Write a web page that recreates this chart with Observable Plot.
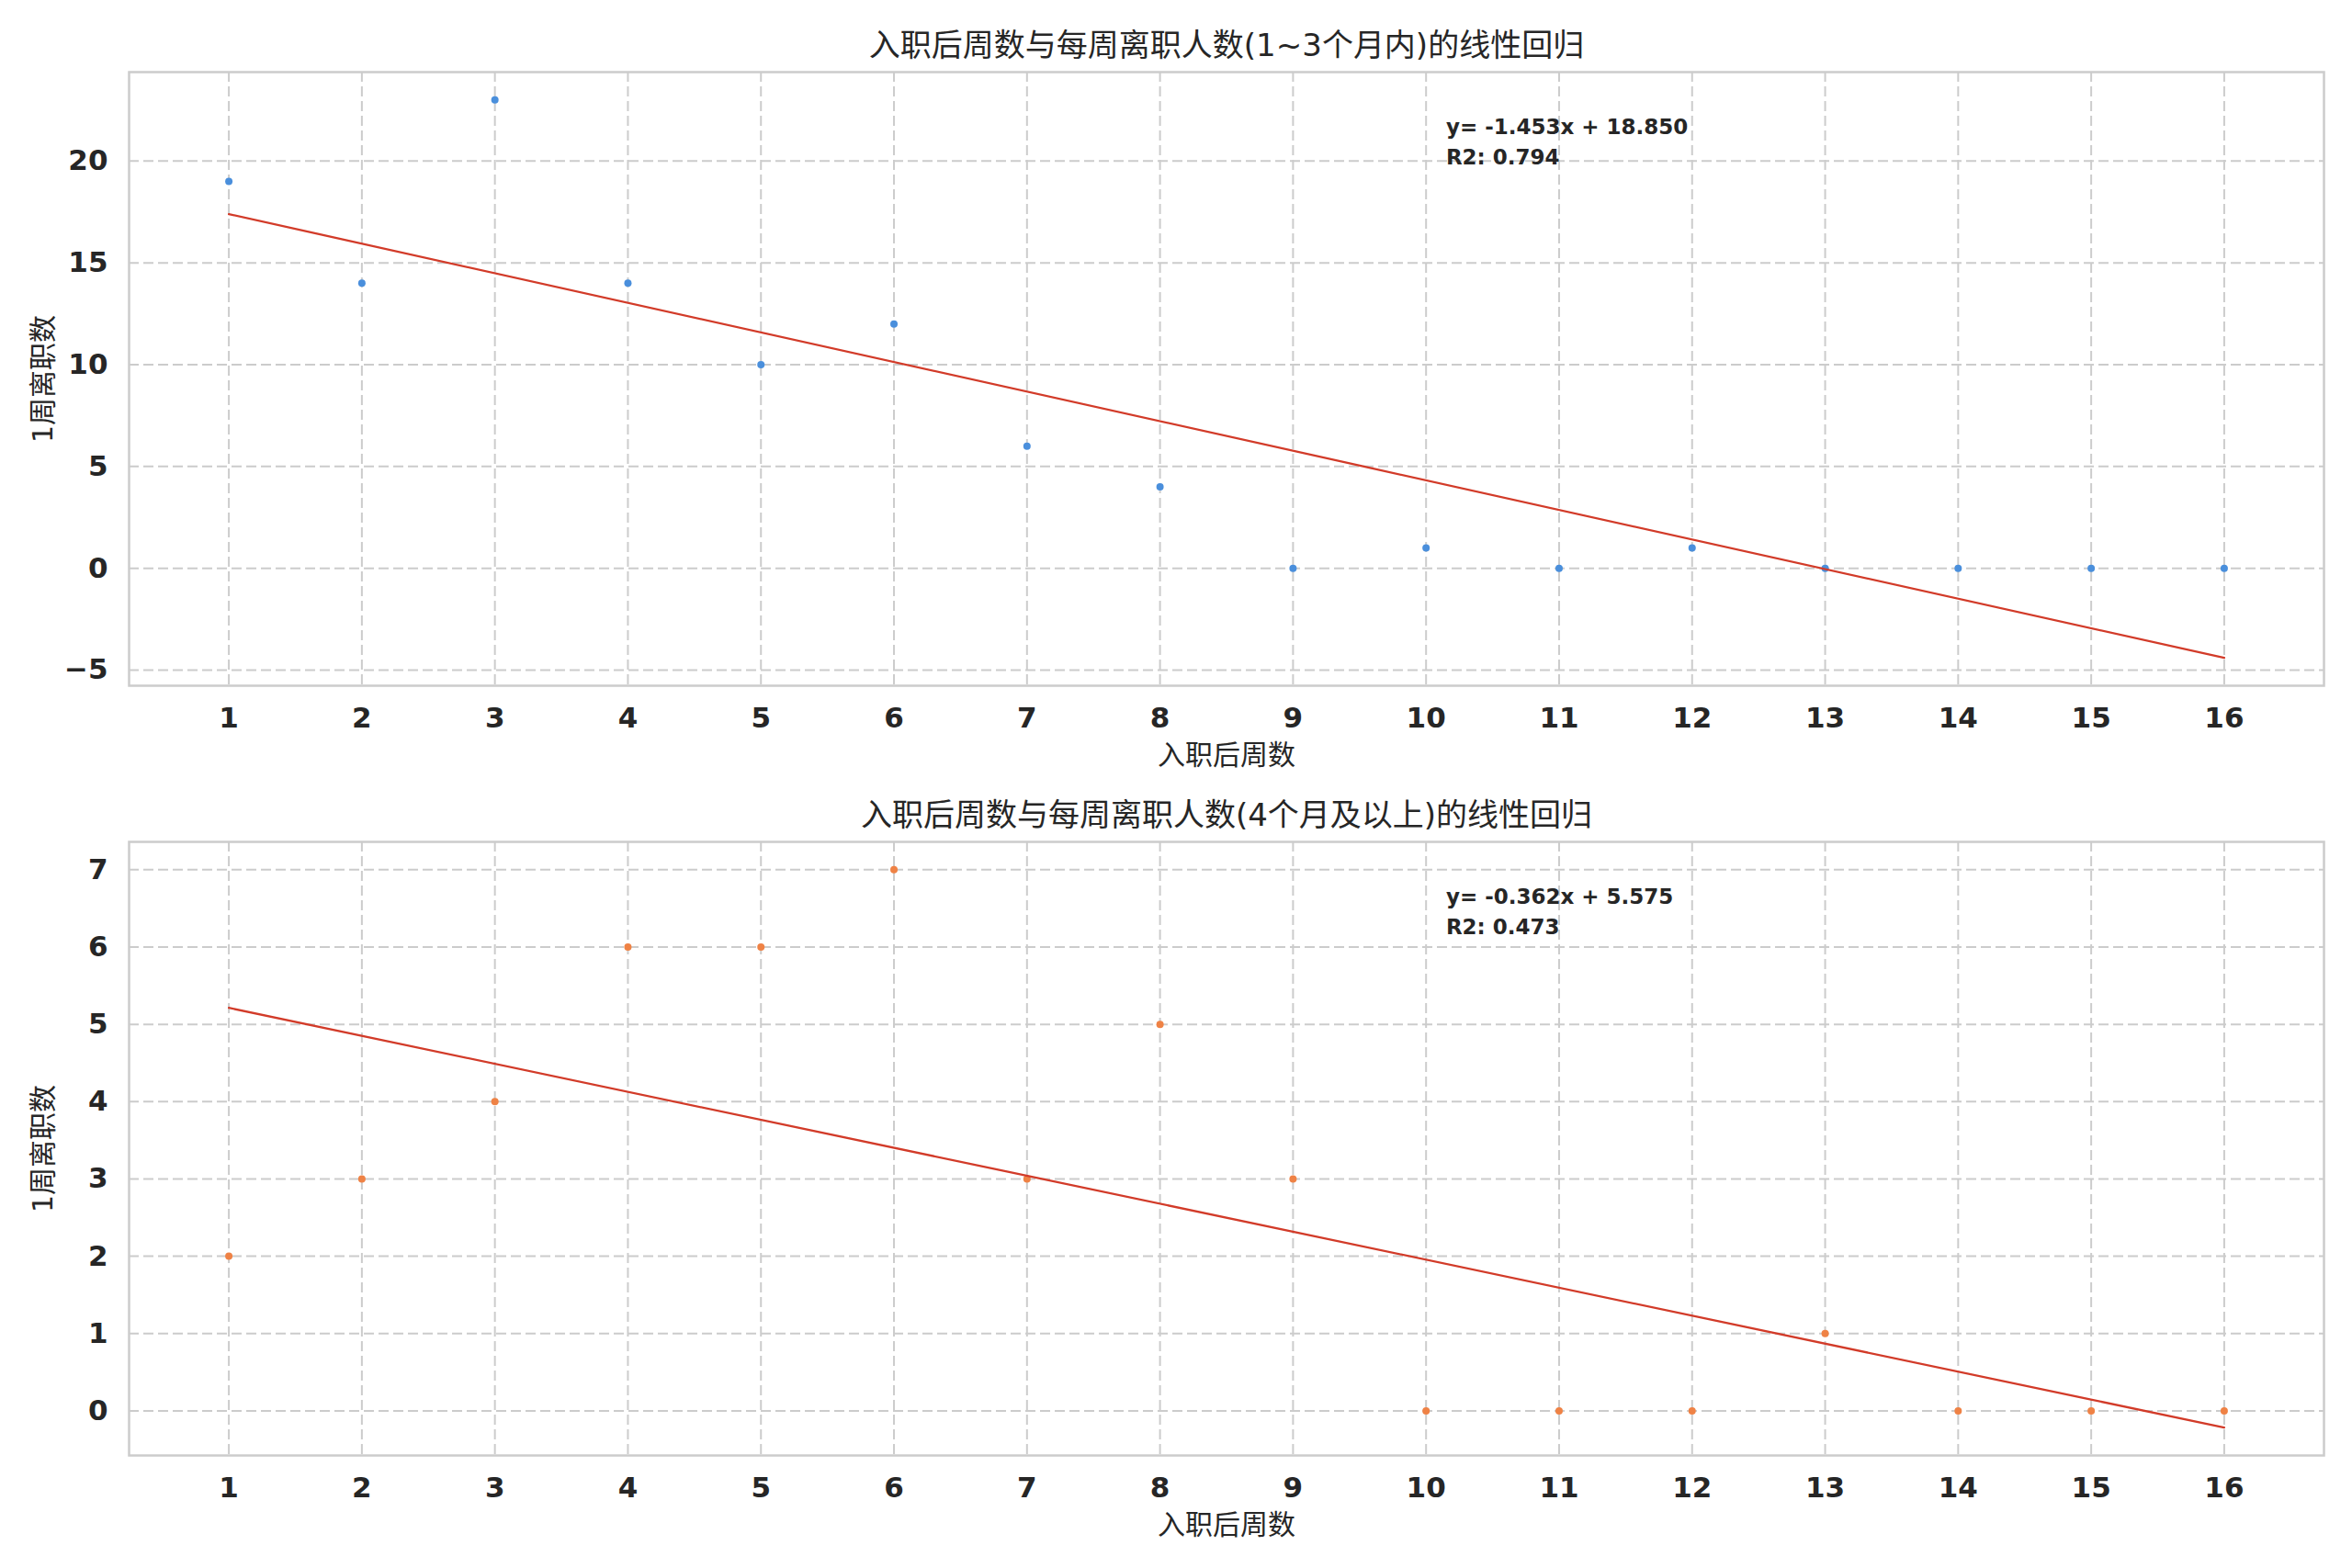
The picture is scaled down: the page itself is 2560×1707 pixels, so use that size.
<!DOCTYPE html>
<html>
<head>
<meta charset="utf-8">
<script src="https://cdn.jsdelivr.net/npm/d3@7"></script>
<script src="https://cdn.jsdelivr.net/npm/@observablehq/plot@0.6"></script>
<style>
  html, body { margin: 0; padding: 0; background: #ffffff; }
  #chart { width: 2560px; height: 1707px; }
  #chart svg { display: block; }
</style>
</head>
<body>
<div id="chart"></div>
<script>
// ---- data ----
const weeks = [1, 2, 3, 4, 5, 6, 7, 8, 9, 10, 11, 12, 13, 14, 15, 16];
const earlyCounts = [19, 14, 23, 14, 10, 12, 6, 4, 0, 1, 0, 1, 0, 0, 0, 0];
const lateCounts  = [2, 3, 4, 6, 6, 7, 3, 5, 3, 0, 0, 0, 1, 0, 0, 0];
const titles = [
  "入职后周数与每周离职人数(1~3个月内)的线性回归",
  "入职后周数与每周离职人数(4个月及以上)的线性回归"
];
const xLabel = "入职后周数";
const yLabel = "1周离职数";
const slopes = [-1.453, -0.362];
const intercepts = [18.850, 5.575];
const r2s = [0.794, 0.473];
const yTicksTop = [-5, 0, 5, 10, 15, 20];
const yTicksBottom = [0, 1, 2, 3, 4, 5, 6, 7];
const pointColors = ["#4a8fdc", "#ef8245"];
const lineColor = "#d23b29";

const W = 2560, ML = 140, MR = 31;
const frameW = W - ML - MR;
const FONT = "'DejaVu Sans', 'Noto Sans CJK SC', sans-serif";
const INK = "#262626";
const GRID = {stroke: "#cccccc", strokeOpacity: 1, strokeWidth: 2, strokeDasharray: "11,5"};
const intFmt = d3.format("d");

function panel(k, values, yTicks, height, marginTop, marginBottom) {
  const pts = weeks.map((w, i) => ({x: w, y: values[i]}));
  const ends = [d3.min(weeks), d3.max(weeks)];
  const fit = ends.map(x => ({x, y: slopes[k] * x + intercepts[k]}));
  const ys = values.concat(fit.map(d => d.y));
  const lo = d3.min(ys), hi = d3.max(ys), py = (hi - lo) * 0.05;
  const px = (ends[1] - ends[0]) * 0.05;
  const eq = `y= ${slopes[k].toFixed(3)}x + ${intercepts[k].toFixed(3)}`;
  const r2 = `R2: ${r2s[k].toFixed(3)}`;
  return Plot.plot({
    width: W, height, marginLeft: ML, marginRight: MR, marginTop, marginBottom,
    style: {fontFamily: FONT, background: "#ffffff", color: INK, overflow: "visible"},
    x: {domain: [ends[0] - px, ends[1] + px]},
    y: {domain: [lo - py, hi + py]},
    marks: [
      Plot.gridX(weeks, GRID),
      Plot.gridY(yTicks, GRID),
      Plot.frame({stroke: "#cccccc", strokeWidth: 2.5}),
      Plot.axisX(weeks, {tickSize: 0, tickPadding: 23, tickFormat: intFmt, fontSize: 31, fontWeight: "bold", fill: INK, label: null}),
      Plot.axisY(yTicks, {tickSize: 0, tickPadding: 23, tickFormat: intFmt, fontSize: 31, fontWeight: "bold", fill: INK, label: null}),
      Plot.dot(pts, {x: "x", y: "y", r: 4, fill: pointColors[k], stroke: "none"}),
      Plot.line(fit, {x: "x", y: "y", stroke: lineColor, strokeWidth: 2.3}),
      Plot.text([eq], {text: d => d, frameAnchor: "top-left", dx: 0.6 * frameW, dy: 50.7, lineAnchor: "top", textAnchor: "start", fontSize: 23, fontWeight: "bold", fill: INK}),
      Plot.text([r2], {text: d => d, frameAnchor: "top-left", dx: 0.6 * frameW, dy: 83.7, lineAnchor: "top", textAnchor: "start", fontSize: 23, fontWeight: "bold", fill: INK}),
      Plot.text([titles[k]], {text: d => d, frameAnchor: "top", dy: -28, lineAnchor: "middle", textAnchor: "middle", fontSize: 34, fill: INK}),
      Plot.text([xLabel], {text: d => d, frameAnchor: "bottom", dy: 76, lineAnchor: "middle", textAnchor: "middle", fontSize: 30, fill: INK}),
      Plot.text([yLabel], {text: d => d, frameAnchor: "left", dx: -93, rotate: -90, lineAnchor: "middle", textAnchor: "middle", fontSize: 30, fill: INK})
    ]
  });
}

const root = document.getElementById("chart");
root.append(panel(0, earlyCounts, yTicksTop, 860, 78, 114));
root.append(panel(1, lateCounts, yTicksBottom, 847, 56, 123));
</script>
</body>
</html>
